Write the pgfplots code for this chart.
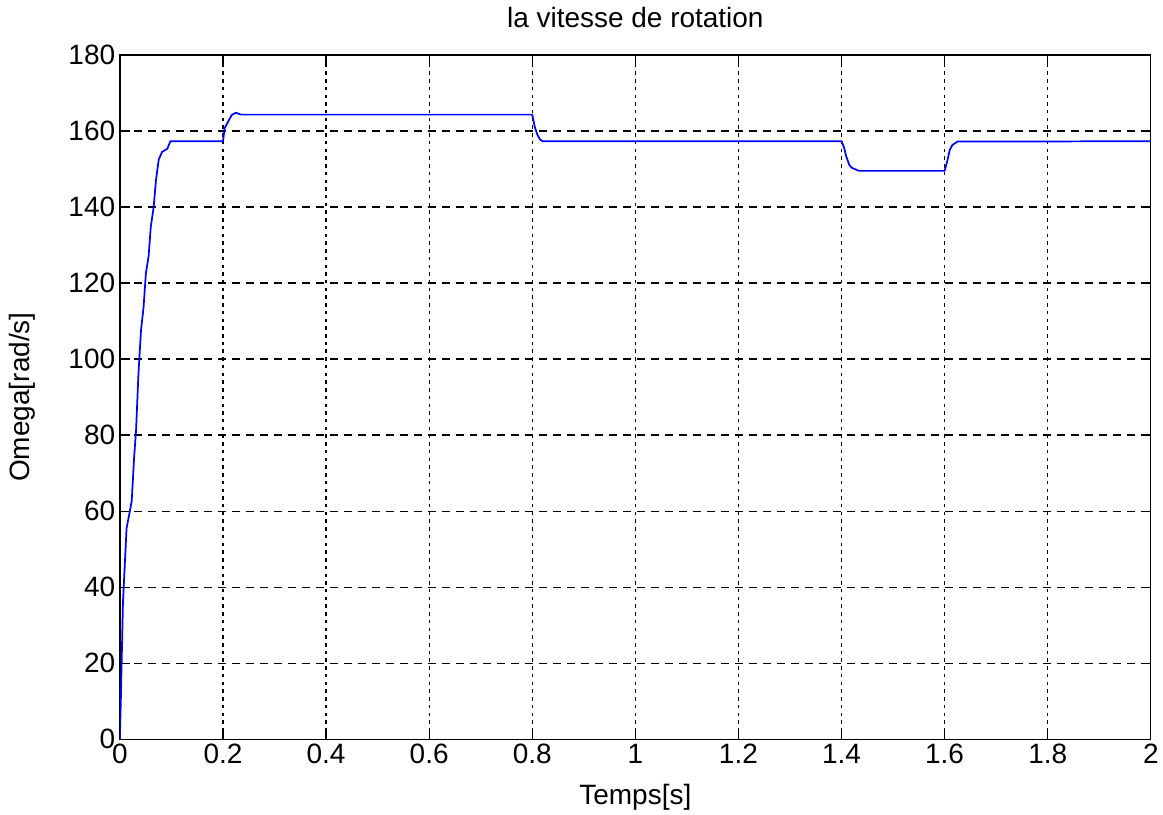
\documentclass[border=0pt]{standalone}
\usepackage{fontspec}
\setmainfont{Liberation Sans}
\usepackage{pgfplots}
\pgfplotsset{compat=1.18}
\begin{document}
\begin{tikzpicture}
\begin{axis}[
  scale only axis,
  width=774pt, height=513.75pt,
  xmin=0, xmax=2, ymin=0, ymax=180,
  xtick={0,0.2,...,2.01},
  ytick={0,20,...,180},
  xticklabels={0,0.2,0.4,0.6,0.8,1,1.2,1.4,1.6,1.8,2},
  /pgf/number format/assume math mode=true,
  font=\fontsize{21}{25}\selectfont,
  tick align=inside,
  major tick length=7.5pt,
  tick style={black, line width=0.9pt},
  axis line style={black, line width=1pt},
  grid=major,
  x grid style={black, line width=0.9pt, dash pattern=on 2.6pt off 3.2pt},
  y grid style={black, line width=0.9pt, dash pattern=on 6pt off 4.5pt},
  title={la vitesse de rotation},
  title style={at={(axis description cs:0.5,1.029)}, anchor=base},
  xlabel={Temps[s]},
  xlabel style={at={(axis description cs:0.5,-0.095)}, anchor=base},
  ylabel={Omega[rad/s]},
  ylabel style={at={(axis description cs:-0.095,0.5)}, anchor=center},
]
\addplot[color={rgb,255:red,0;green,0;blue,255}, line width=1.3pt] coordinates {
(0,0) (0.002,11) (0.006,36) (0.013,55.5) (0.018,59) (0.023,62.7)
(0.0275,73.8) (0.0315,81.5) (0.036,96) (0.041,107.6) (0.046,113.7)
(0.0505,122.6) (0.0557,127) (0.060,134.8) (0.0656,140) (0.070,147)
(0.0754,152.5) (0.082,154.5) (0.092,155.3) (0.098,157.3)
(0.2,157.3) (0.2035,160.8) (0.217,164.2) (0.225,164.8) (0.235,164.3)
(0.8,164.3) (0.805,161) (0.81,159) (0.815,157.8) (0.82,157.3)
(1.4,157.3) (1.405,155.6) (1.409,153.4) (1.415,151.1) (1.42,150.3) (1.434,149.5)
(1.6,149.5) (1.605,152) (1.61,155) (1.615,156.3) (1.625,157.2) (2,157.3)
};
\end{axis}
\path[use as bounding box] (-90pt,-54pt) rectangle (782.25pt,555pt);
\end{tikzpicture}
\end{document}
